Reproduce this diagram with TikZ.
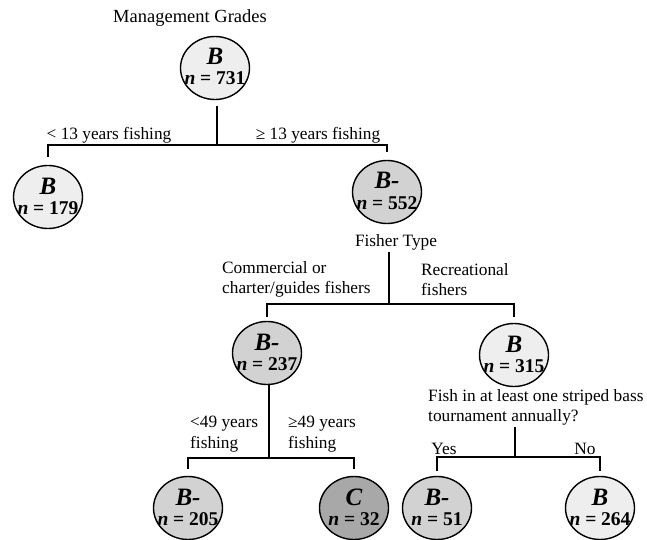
\documentclass[tikz,border=0pt]{standalone}
\usepackage{fontspec}
\setmainfont{Liberation Serif}
\usetikzlibrary{shapes.geometric}
\definecolor{gradeB}{HTML}{EEEEEE}
\definecolor{gradeBm}{HTML}{D2D2D2}
\definecolor{gradeC}{HTML}{A8A8A8}
\tikzset{
  gcirc/.style={draw=black, line width=1.4pt, ellipse, minimum width=69pt, minimum height=63pt, inner sep=0pt},
  gletter/.style={anchor=base, inner sep=0pt, font=\fontsize{25}{25}\selectfont\bfseries\itshape},
  gcount/.style={anchor=base, inner sep=0pt, font=\fontsize{19.5}{19.5}\selectfont\bfseries},
  lbl/.style={inner sep=0pt, font=\fontsize{17.3}{20.5}\selectfont, align=left},
  branch/.style={line width=1.4pt, black},
}
\newcommand\gradenode[5]{%
  \node[gcirc, fill=#3] (#1) at (#2) {};
  \node[gletter] (#1g) at ([yshift=3pt]#1.center) {#4};
  \node[gcount] (#1n) at ([yshift=-17pt]#1.center) {\textit{n} = #5};
}
\begin{document}
\begin{tikzpicture}[x=1pt, y=-1pt]
\useasboundingbox (0,0) rectangle (647,540);
\node[inner sep=0pt, font=\fontsize{18.5}{20}\selectfont] (title) at (190,18) {Management Grades};

\gradenode{root}{215,68}{gradeB}{B}{731}
\gradenode{a}{48,197}{gradeB}{B}{179}
\gradenode{b}{387,192}{gradeBm}{B-}{552}
\gradenode{c}{267,353}{gradeBm}{B-}{237}
\gradenode{d}{514,355}{gradeB}{B}{315}
\gradenode{e}{188,508}{gradeBm}{B-}{205}
\gradenode{f}{354,508}{gradeC}{C}{32}
\gradenode{g}{437,508}{gradeBm}{B-}{51}
\gradenode{h}{600,508}{gradeB}{B}{264}

% level 1
\coordinate (j1) at (217,145);
\draw[branch] ([yshift=-6pt]root.south -| j1) -- (j1);
\draw[branch] ([yshift=8pt]a.north) -- (a.north |- j1) -- (b.north |- j1) -- ([yshift=8pt]b.north);
\node[lbl] (l1) at (109,135) {< 13 years fishing};
\node[lbl] (l2) at (318,135) {≥ 13 years fishing};

% level 2
\node[lbl] (ft) at (396,242) {Fisher Type};
\coordinate (j2) at (389,304);
\draw[branch] ([yshift=-2pt]ft.south -| j2) -- (j2);
\draw[branch] ([yshift=4pt]c.north) -- (c.north |- j2) -- (d.north |- j2) -- ([yshift=6pt]d.north);
\node[lbl, anchor=north west] (l3) at (222,261) {Commercial or\\charter/guides fishers};
\node[lbl, anchor=north west] (l4) at (421,263) {Recreational\\fishers};

% level 3 left
\coordinate (j3) at (269,458);
\draw[branch] (c.south -| j3) -- (j3);
\draw[branch] ([yshift=7pt]e.north) -- (e.north |- j3) -- (f.north |- j3) -- ([yshift=7pt]f.north);
\node[lbl, anchor=north west] (l5) at (190,416) {<49 years\\fishing};
\node[lbl, anchor=north west] (l6) at (288,416) {≥49 years\\fishing};

% level 3 right
\node[lbl, anchor=north west] (q) at (428,389) {Fish in at least one striped bass\\tournament annually?};
\coordinate (j4) at (515,457);
\draw[branch] ([yshift=-1pt]q.south -| j4) -- (j4);
\draw[branch] ([yshift=5pt]g.north) -- (g.north |- j4) -- (h.north |- j4) -- ([yshift=5pt]h.north);
\node[lbl] (l7) at (444,449) {Yes};
\node[lbl] (l8) at (585,449) {No};
\end{tikzpicture}
\end{document}
